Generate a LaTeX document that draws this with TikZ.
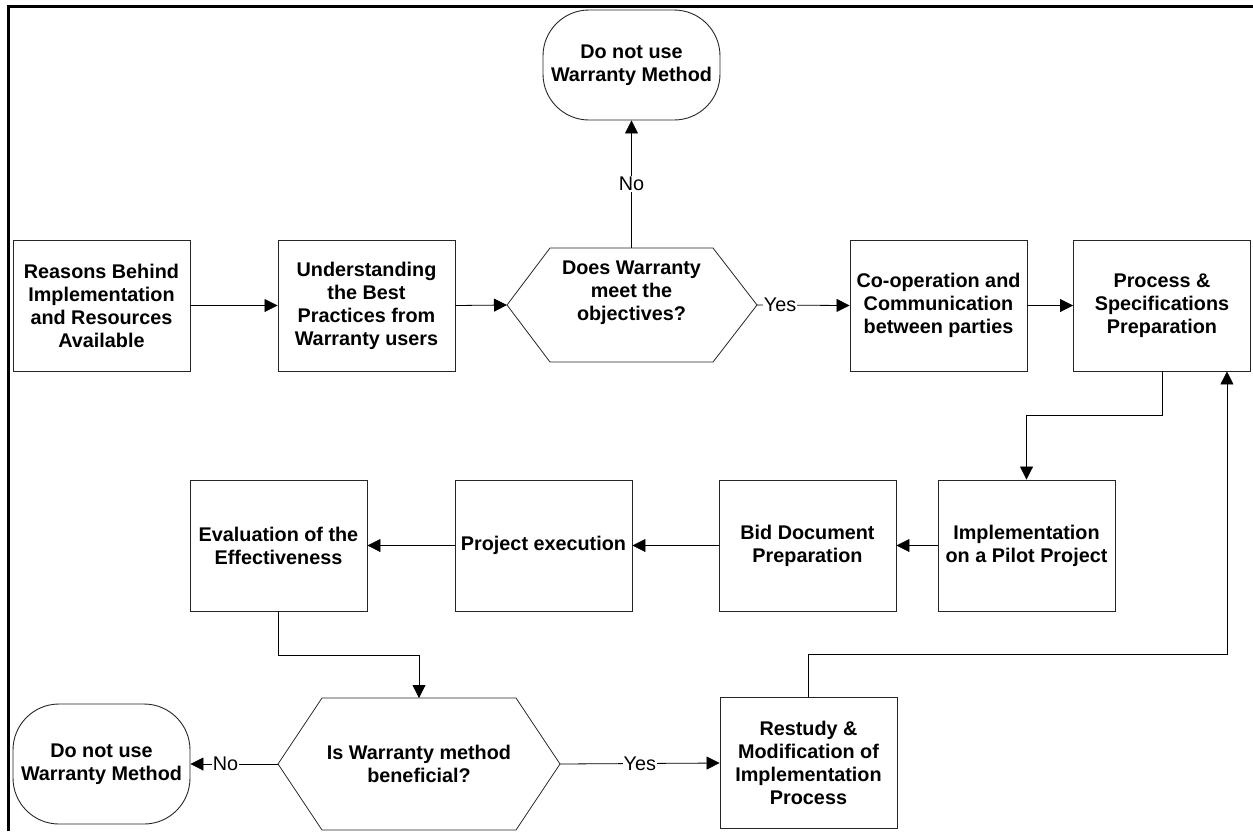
\documentclass[tikz,border=0pt]{standalone}
\usepackage{fontspec}
\setmainfont{Liberation Sans}
\usetikzlibrary{arrows.meta}
\tikzset{stepbox/.style={draw=black!85, line width=0.9pt, minimum width=177pt, minimum height=131pt,
    inner sep=2pt, align=center, font=\bfseries\fontsize{19.8}{23}\selectfont},
stopbox/.style={stepbox, rounded corners=46pt, minimum height=#1},
stopbox/.default={110pt},
%core of a hexagon, the edges are drawn by hand
decision/.style={minimum width=#1, inner sep=0pt, outer sep=0pt},
qtext/.style={align=center, inner sep=0pt, font=\bfseries\fontsize{19.8}{23}\selectfont},
hexedge/.style={draw=black!85, line width=0.8pt, line join=miter},
flow/.style={line width=0.8pt, -{Triangle[length=13pt,width=13pt]}},
answer/.style={fill=white, inner sep=1pt, font=\fontsize{19.8}{23}\selectfont}}

\begin{document}
\begin{tikzpicture}[x=1pt, y=-1pt]
\useasboundingbox (0,0) rectangle (1253,831);

\draw[line width=3pt] (1253,6.5) -- (8.5,6.5) -- (8.5,831);

% first row
\node[stepbox] (reasons) at (101.5,305.5) {Reasons Behind\\Implementation\\and Resources\\Available};
\node[stepbox] (underst) at (366.5,305.5) {Understanding\\the Best\\Practices from\\Warranty users};

\node[decision=163pt, minimum height=114pt] (dec1) at (631.5,305) {};
\coordinate (dec1w) at ([xshift=-43pt]dec1.west);
\coordinate (dec1e) at ([xshift=44pt]dec1.east);
\draw[hexedge] (dec1.north west) -- (dec1.north east) -- (dec1e) -- (dec1.south east)
    -- (dec1.south west) -- (dec1w) -- cycle;
\node[qtext] (dec1txt) at ([yshift=12pt]dec1.center) {Does Warranty\\meet the\\objectives?};

\node[stopbox] (stop1) at (631.5,65) {Do not use\\Warranty Method};

\node[stepbox] (coop) at (938.5,305.5) {Co-operation and\\Communication\\between parties};
\node[stepbox] (proc) at (1162,305.5) {Process \&\\Specifications\\Preparation};

% second row
\node[stepbox] (pilot) at (1026.5,545.5) {Implementation\\on a Pilot Project};
\node[stepbox] (bid) at (807.5,545.5) {Bid Document\\Preparation};
\node[stepbox] (exec) at (543.5,545.5) {Project execution};
\node[stepbox] (eval) at (278.5,545.5) {Evaluation of the\\Effectiveness};

% third row
\node[decision=194pt, minimum height=132pt] (dec2) at (419,764) {};
\coordinate (dec2w) at ([xshift=-44pt]dec2.west);
\coordinate (dec2e) at ([xshift=44pt]dec2.east);
\draw[hexedge] (dec2.north west) -- (dec2.north east) -- (dec2e) -- (dec2.south east)
    -- (dec2.south west) -- (dec2w) -- cycle;
\node[qtext] (dec2txt) at (dec2.center) {Is Warranty method\\beneficial?};

\node[stopbox=120pt] (stop2) at (101.5,764) {Do not use\\Warranty Method};
\node[stepbox] (restudy) at (808.5,763) {Restudy \&\\Modification of\\Implementation\\Process};

% connectors
\draw[flow] (reasons.east) -- (underst.west);
\draw[flow] (underst.east) -- (dec1w);
\draw[flow] (dec1.north) -- node[answer] (no1) {No} (stop1.south);
\draw[flow] (dec1e) -- node[answer, pos=0.25] (yes1) {Yes} (coop.west);
\draw[flow] (coop.east) -- (proc.west);
\draw[flow] (proc.south) -- ++(0,44) -| (pilot.north);
\draw[flow] (pilot.west) -- (bid.east);
\draw[flow] (bid.west) -- (exec.east);
\draw[flow] (exec.west) -- (eval.east);
\draw[flow] (eval.south) -- ++(0,44) -| (dec2.north);
\draw[flow] (dec2w) -- node[answer, pos=0.6] (no2) {No} (stop2.east);
\draw[flow] (dec2e) -- node[answer] (yes2) {Yes} (restudy.west);
\draw[flow] (restudy.north) -- ++(0,-43) -| ([xshift=-24pt]proc.south east);

\end{tikzpicture}
\end{document}
